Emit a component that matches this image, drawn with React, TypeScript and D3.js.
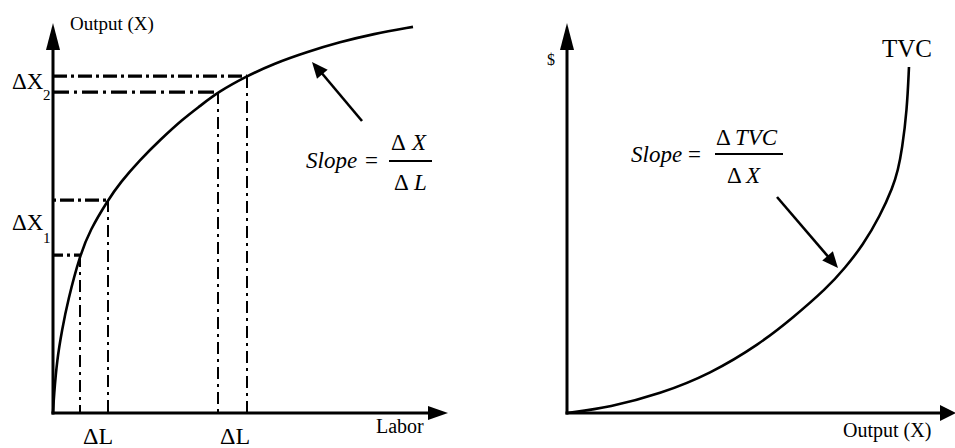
import React from "react";
import * as d3 from "d3";

// Left panel: production function (Labor -> Output)
const laborValues = [0, 0.25, 1, 2.25, 3.75, 6.75, 9.25, 13.75, 16.75, 21.75, 26.75, 32.5, 36.75, 41.25, 48.5, 55, 63.5, 71.75, 80, 90];
const outputValues = [0, 4.6, 13.6, 21.3, 29, 40.5, 46.9, 54.6, 59, 64.9, 70, 75.4, 78.7, 82.3, 86.4, 89.5, 92.6, 95.1, 97.2, 99];
// Guide points on the production curve (ΔL / ΔX construction)
const guideLabor = [6.75, 13.75, 41.25, 48.5];
const guideOutput = [40.5, 54.6, 82.3, 86.4];
// Right panel: total variable cost curve
const tvcOutput = [0, 11.1, 23.97, 36.9, 49.7, 58.2, 67, 71.65, 76.29, 80.67, 84.02, 85.31, 86.34, 87.63, 88.14];
const tvcCost = [0, 1.5, 4.9, 10, 17.7, 24.4, 32.05, 37.18, 43.08, 50.51, 57.95, 62.31, 67.44, 77.69, 88.72];

const FONT = "'Liberation Serif', 'Times New Roman', serif";

const xL = d3.scaleLinear().domain([0, 100]).range([53, 453]);
const yL = d3.scaleLinear().domain([0, 100]).range([413, 23]);
const xR = d3.scaleLinear().domain([0, 100]).range([567, 955]);
const yR = d3.scaleLinear().domain([0, 100]).range([413, 23]);

function arrowHead(tx: number, ty: number, fx: number, fy: number, len: number, half: number) {
  const dx = tx - fx, dy = ty - fy;
  const d = Math.hypot(dx, dy);
  const ux = dx / d, uy = dy / d;
  const bx = tx - ux * len, by = ty - uy * len;
  const px = -uy, py = ux;
  return `M${tx},${ty}L${bx + px * half},${by + py * half}L${bx - px * half},${by - py * half}Z`;
}

export default function App() {
  const lineL = d3.line<number>()
    .x((_, i) => xL(laborValues[i]))
    .y((_, i) => yL(outputValues[i]))
    .curve(d3.curveBasis);
  const lineR = d3.line<number>()
    .x((_, i) => xR(tvcOutput[i]))
    .y((_, i) => yR(tvcCost[i]))
    .curve(d3.curveBasis);

  const hDash = ["3 4 14 4", "14 4 3 4", "16 5 3 5", "10 4 3 4"];
  const vDash = "12 5 3 5";

  return (
    <svg width={955} height={448} style={{ position: "absolute", left: 0, top: 0, background: "#fff" }}
      fontFamily={FONT}>
      {/* ---------- LEFT PANEL ---------- */}
      {guideLabor.map((l, i) => (
        <g key={"g" + i}>
          <line x1={xL(0)} x2={xL(l)} y1={yL(guideOutput[i])} y2={yL(guideOutput[i])}
            stroke="#000" strokeWidth={3.2} strokeDasharray={hDash[[3, 0, 2, 1][i]]} />
          <line x1={xL(l)} x2={xL(l)} y1={yL(guideOutput[i])} y2={yL(0)}
            stroke="#000" strokeWidth={2} strokeDasharray={vDash} />
        </g>
      ))}
      <path d={lineL(laborValues) || ""} fill="none" stroke="#000" strokeWidth={2.6} />
      <line x1={xL(0)} x2={xL(0)} y1={yL(0) + 1.5} y2={45} stroke="#000" strokeWidth={3} />
      <path d={arrowHead(xL(0), 23, xL(0), 100, 27, 7)} fill="#000" />
      <line x1={xL(0) - 1.5} x2={430} y1={yL(0)} y2={yL(0)} stroke="#000" strokeWidth={3} />
      <path d={arrowHead(448, yL(0), 300, yL(0), 20, 7)} fill="#000" />

      <text x={70} y={30} fontSize={19}>Output (X)</text>
      <text x={376} y={433} fontSize={20}>Labor</text>
      <text x={12} y={89} fontSize={23}>ΔX</text>
      <text x={43} y={100} fontSize={15}>2</text>
      <text x={12} y={230} fontSize={23}>ΔX</text>
      <text x={43} y={243} fontSize={15}>1</text>
      <text x={83} y={444} fontSize={24}>ΔL</text>
      <text x={220} y={444} fontSize={24}>ΔL</text>

      {/* slope annotation */}
      <line x1={362} y1={121} x2={320} y2={71} stroke="#000" strokeWidth={2.6} />
      <path d={arrowHead(312, 62, 362, 121, 16, 7)} fill="#000" />
      <text x={306} y={168} fontSize={23} fontStyle="italic">Slope</text>
      <text x={365} y={168} fontSize={23}>=</text>
      <line x1={389} x2={432} y1={161} y2={161} stroke="#000" strokeWidth={1.8} />
      <text x={391} y={150} fontSize={23}>Δ<tspan x={412} fontStyle="italic">X</tspan></text>
      <text x={394} y={190} fontSize={23}>Δ<tspan x={414} fontStyle="italic">L</tspan></text>

      {/* ---------- RIGHT PANEL ---------- */}
      <path d={lineR(tvcOutput) || ""} fill="none" stroke="#000" strokeWidth={2.6} />
      <line x1={xR(0)} x2={xR(0)} y1={yR(0) + 1.5} y2={45} stroke="#000" strokeWidth={3} />
      <path d={arrowHead(xR(0), 23, xR(0), 100, 27, 7)} fill="#000" />
      <line x1={xR(0) - 1.5} x2={942} y1={yR(0)} y2={yR(0)} stroke="#000" strokeWidth={3} />
      <path d={arrowHead(956, yR(0), 800, yR(0), 16, 8)} fill="#000" />

      <text x={547} y={65} fontSize={16}>$</text>
      <text x={882} y={57} fontSize={25}>TVC</text>
      <text x={843} y={437} fontSize={20}>Output (X)</text>

      <line x1={777} y1={197} x2={831} y2={260} stroke="#000" strokeWidth={2.6} />
      <path d={arrowHead(838, 268, 777, 197, 16, 7)} fill="#000" />
      <text x={631} y={162} fontSize={23} fontStyle="italic">Slope</text>
      <text x={688} y={162} fontSize={23}>=</text>
      <line x1={715} x2={783} y1={154} y2={154} stroke="#000" strokeWidth={1.8} />
      <text x={716} y={145} fontSize={23}>Δ<tspan x={735} fontStyle="italic">TVC</tspan></text>
      <text x={727} y={183} fontSize={23}>Δ<tspan x={746} fontStyle="italic">X</tspan></text>
    </svg>
  );
}
